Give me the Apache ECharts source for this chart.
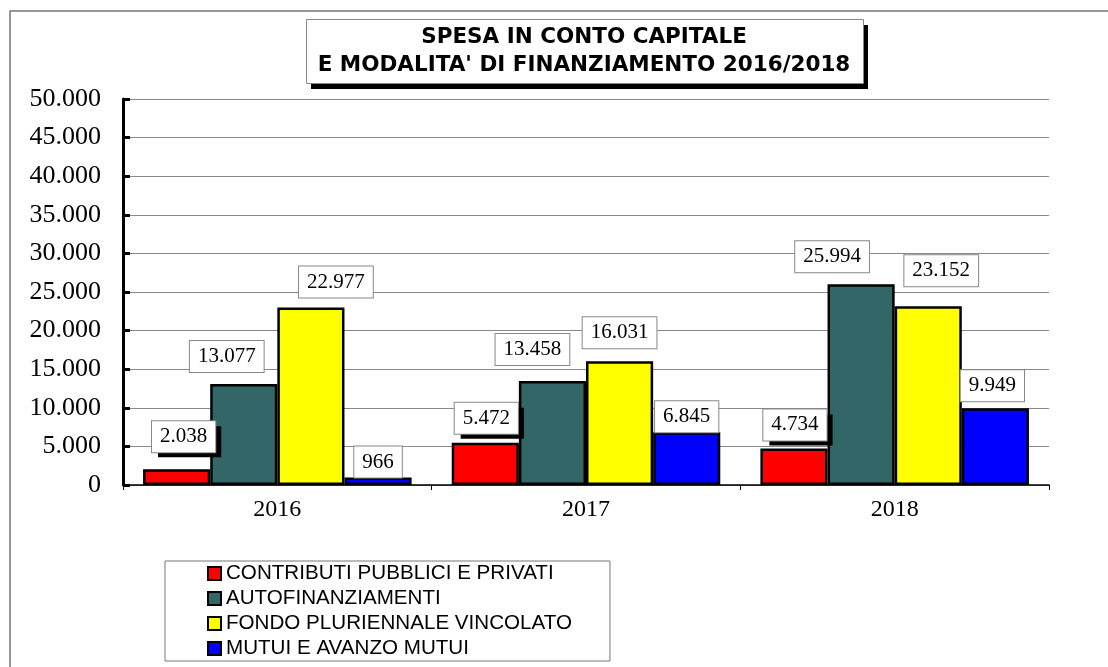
<!DOCTYPE html>
<html lang="it">
<head>
<meta charset="UTF-8">
<title>Spesa in conto capitale</title>
<script src="https://cdn.jsdelivr.net/npm/echarts@6/dist/echarts.min.js"></script>
<style>
    html,body{margin:0;padding:0;background:#fff;}
    #chart{width:1108px;height:667px;}
</style>
</head>
<body>
<div id="chart"></div>
<script>
// dati (migliaia)
var anni = ['2016', '2017', '2018'];
var contributi = [2038, 5472, 4734];
var autofinanziamenti = [13077, 13458, 25994];
var fondoPluriennale = [22977, 16031, 23152];
var mutui = [966, 6845, 9949];
var nomiSerie = ['CONTRIBUTI PUBBLICI E PRIVATI', 'AUTOFINANZIAMENTI', 'FONDO PLURIENNALE VINCOLATO', 'MUTUI E AVANZO MUTUI'];
var coloriSerie = ['#ff0000', '#336666', '#ffff00', '#0000ff'];

// spostamento etichette come nel foglio excel [dx, dy]
var spostaEtichette = [
    [[7, -17], [1, -9], [1, -8]],
    [[-17, -12], [-20, -16], [-29, -12]],
    [[25, -10], [0, -13], [13, -20]],
    [[0, 0], [0, 0], [-3, -7]]
];

function puntini(v) {
    return String(v).replace(/\B(?=(\d{3})+(?!\d))/g, '.');
}

var chart = echarts.init(document.getElementById('chart'));

var boxEtichetta = {
    fontFamily: 'Liberation Serif',
    fontSize: 21,
    color: '#000',
    backgroundColor: '#fff',
    borderColor: '#888',
    borderWidth: 1,
    padding: [5, 8, 5, 8]
};

function serie(i, valori) {
    var label = {
        show: true,
        position: 'top',
        distance: 0,
        lineHeight: 21,
        formatter: function (p) { return puntini(p.value); }
    };
    Object.assign(label, boxEtichetta);
    if (i === 0) {
        // prima serie: etichetta con ombra nera
        label = {
            show: true,
            position: 'top',
            distance: 0,
            padding: 0,
            backgroundColor: '#000',
            shadowColor: '#000',
            shadowOffsetX: 6,
            shadowOffsetY: 5,
            shadowBlur: 0,
            formatter: function (p) { return '{b|' + puntini(p.value) + '}'; },
            rich: {b: boxEtichetta}
        };
    }
    return {
        name: nomiSerie[i],
        type: 'bar',
        barGap: 0,
        barCategoryGap: '13%',
        itemStyle: {color: coloriSerie[i], borderColor: '#000', borderWidth: 2.5},
        label: label,
        emphasis: {disabled: true},
        data: valori.map(function (v, k) {
            return {value: v, label: {offset: spostaEtichette[i][k]}};
        })
    };
}

var option = {
    animation: false,
    backgroundColor: '#fff',
    title: {
        text: "SPESA IN CONTO CAPITALE\nE MODALITA' DI FINANZIAMENTO 2016/2018",
        left: 584,
        top: 23.5,
        textAlign: 'center',
        padding: 0,
        z: 10,
        textStyle: {fontFamily: 'DejaVu Sans', fontWeight: 'bold', fontSize: 21.5, lineHeight: 28, color: '#000'}
    },
    legend: {
        orient: 'vertical',
        left: 165,
        top: 561,
        padding: [0, 38, 0, 42],
        itemGap: 0,
        itemWidth: 13,
        itemHeight: 13,
        icon: 'rect',
        borderColor: '#777',
        borderWidth: 1,
        selectedMode: false,
        textStyle: {fontFamily: 'Liberation Sans', fontSize: 20.6, lineHeight: 25, color: '#000'},
        data: nomiSerie
    },
    graphic: [{
        type: 'rect',
        shape: {x: 10, y: 11, width: 1300, height: 1000},
        style: {fill: null, stroke: '#777', lineWidth: 1.5},
        z: -10
    }, {
        // ombra del riquadro titolo
        type: 'rect',
        shape: {x: 311, y: 25, width: 557, height: 64},
        style: {fill: '#000'},
        z: 1
    }, {
        type: 'rect',
        shape: {x: 306.5, y: 19.5, width: 557, height: 64},
        style: {fill: '#fff', stroke: '#888', lineWidth: 1},
        z: 2
    }],
    grid: {left: 123, right: 59, top: 99, bottom: 182},
    xAxis: {
        type: 'category',
        data: anni,
        axisLine: {lineStyle: {color: '#000', width: 1.5}},
        axisTick: {show: true, length: 5, lineStyle: {color: '#000', width: 1}},
        axisLabel: {fontFamily: 'Liberation Serif', fontSize: 24, color: '#000', margin: 13},
        splitLine: {show: false}
    },
    yAxis: {
        type: 'value',
        min: 0,
        max: 50000,
        interval: 5000,
        axisLine: {show: true, lineStyle: {color: '#000', width: 3}},
        axisTick: {show: true, inside: true, length: 7, lineStyle: {color: '#000', width: 3}},
        axisLabel: {fontFamily: 'Liberation Serif', fontSize: 26, color: '#000', margin: 22, formatter: puntini},
        splitLine: {lineStyle: {color: '#888', width: 1}}
    },
    series: [
        serie(0, contributi),
        serie(1, autofinanziamenti),
        serie(2, fondoPluriennale),
        serie(3, mutui)
    ]
};

chart.setOption(option);
</script>
</body>
</html>
